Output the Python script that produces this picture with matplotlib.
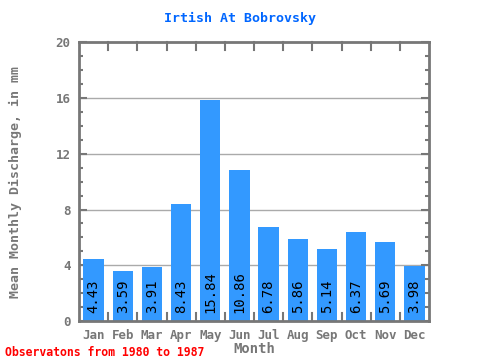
import numpy as np
import matplotlib
matplotlib.use("Agg")
import matplotlib.pyplot as plt

# Dados
meses = ["Jan", "Feb", "Mar", "Apr", "May", "Jun",
         "Jul", "Aug", "Sep", "Oct", "Nov", "Dec"]
valores = [4.43, 3.59, 3.91, 8.43, 15.84, 10.86,
           6.78, 5.86, 5.14, 6.37, 5.69, 3.98]
yticks = [0, 4, 8, 12, 16, 20]

fonte = "DejaVu Sans Mono"
cinza = "#777777"

fig = plt.figure(figsize=(4.8, 3.6), dpi=100)
ax = fig.add_axes([0.1646, 0.108, 0.7292, 0.775])

x = np.arange(len(meses))
ax.bar(x, valores, width=0.7, color="#3399ff", zorder=2)

for xi, v in zip(x, valores):
    ax.text(xi, 0.6, f"{v:.2f}", rotation=90, ha="center", va="bottom",
            family=fonte, fontsize=10, color="black", zorder=3)

ax.set_xlim(-0.5, 11.5)
ax.set_ylim(0, 20)

# Grade
for yv in yticks[1:-1]:
    ax.axhline(yv, color="#aaaaaa", lw=1, zorder=1)

ax.set_yticks(yticks)
ax.set_yticklabels([str(t) for t in yticks], family=fonte, fontsize=9,
                   color=cinza, fontweight="bold")
ax.set_yticks(np.arange(0, 21, 1), minor=True)
ax.set_xticks(x)
ax.set_xticklabels(meses, family=fonte, fontsize=9, color=cinza,
                   fontweight="bold")
ax.tick_params(axis="x", which="major", length=0, pad=6)
ax.tick_params(axis="y", which="major", direction="in", length=6, width=1.5,
               color=cinza, left=True, right=True, pad=6)
ax.tick_params(axis="y", which="minor", direction="in", length=3, width=1.5,
               color=cinza, left=True, right=True)

# Marcas nas fronteiras dos meses
for b in np.arange(0.5, 11.5, 1):
    ax.plot([b, b], [0, 0.6], color=cinza, lw=1.5, clip_on=False, zorder=4)
    ax.plot([b, b], [20, 19.4], color=cinza, lw=1.5, clip_on=False, zorder=4)

for s in ax.spines.values():
    s.set_color(cinza)
    s.set_linewidth(2)

fig.text(0.5, 0.948, "Irtish At Bobrovsky", ha="center", va="center",
         family=fonte, fontsize=9.5, fontweight="bold", color="#0066ff")
ax.set_ylabel("Mean Monthly Discharge, in mm", family=fonte, fontsize=9.5,
              fontweight="bold", color=cinza, labelpad=24)
ax.set_xlabel("Month", family=fonte, fontsize=10, fontweight="bold",
              color=cinza, labelpad=0)
fig.text(0.01, 0.022, "Observatons from 1980 to 1987", ha="left",
         va="center", family=fonte, fontsize=8.3, fontweight="bold",
         color="red")

plt.savefig("out.png", dpi=100)
